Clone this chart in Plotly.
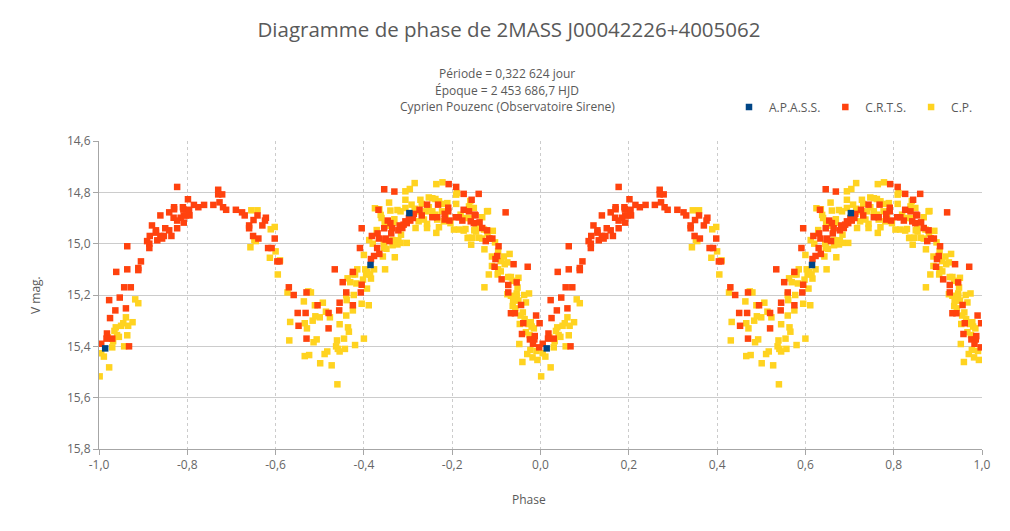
import plotly.graph_objects as go

# ---------------- data (phase in [0,1), V magnitude) ----------------
apass_phase = [0.014, 0.615, 0.703]
apass_mag = [15.408, 15.083, 14.881]

crts_phase = [
    0.177, 0.270, 0.270, 0.279, 0.2015, 0.273, 0.215, 0.225, 0.238, 0.259,
    0.281, 0.288, 0.310, 0.324, 0.170, 0.170, 0.190, 0.191, 0.204, 0.159,
    0.139, 0.169, 0.185, 0.192, 0.205, 0.197, 0.177, 0.192, 0.120, 0.150,
    0.159, 0.177, 0.129, 0.129, 0.115, 0.139, 0.147, 0.164, 0.143, 0.132,
    0.109, 0.114, 0.114, 0.064, 0.095, 0.089, 0.089, 0.064, 0.039, 0.057,
    0.072, 0.023, 0.047, 0.037, 0.061, 0.025, 0.018, 0.017, 0.030, 0.005,
    0.068,
    0.330, 0.350, 0.359, 0.378, 0.376, 0.340, 0.340, 0.370, 0.349, 0.361,
    0.398, 0.383, 0.391, 0.404, 0.409, 0.430, 0.441, 0.470, 0.495, 0.450,
    0.468, 0.520, 0.452, 0.520, 0.470, 0.544, 0.545, 0.534, 0.552, 0.560,
    0.575, 0.575, 0.595, 0.593, 0.595, 0.591, 0.618, 0.616, 0.623, 0.631,
    0.634, 0.630, 0.635, 0.633, 0.646, 0.646, 0.649, 0.654,
    0.669, 0.660, 0.681, 0.678, 0.664, 0.662, 0.649, 0.658, 0.697, 0.705,
    0.792, 0.809, 0.826, 0.860, 0.844, 0.743, 0.768, 0.791, 0.791, 0.726,
    0.826, 0.838, 0.713, 0.731, 0.755, 0.766, 0.783, 0.851, 0.808, 0.815,
    0.823, 0.783, 0.794, 0.702, 0.711, 0.694, 0.842, 0.849, 0.862, 0.868,
    0.687, 0.690,
    0.921, 0.853, 0.879, 0.884, 0.891, 0.876, 0.905, 0.898, 0.902, 0.939,
    0.896, 0.971,
    0.912, 0.927, 0.946, 0.927, 0.956, 0.933, 0.942, 0.990, 0.961, 0.998,
    0.958, 0.976, 0.986, 0.987, 0.983, 0.997,
]
crts_mag = [
    14.779, 14.790, 14.808, 14.808, 14.827, 14.839, 14.849, 14.858, 14.849, 14.849,
    14.858, 14.868, 14.868, 14.878, 14.858, 14.866, 14.858, 14.866, 14.868, 14.878,
    14.890, 14.899, 14.899, 14.890, 14.890, 14.890, 14.910, 14.918, 14.929, 14.940,
    14.948, 14.940, 14.948, 14.957, 14.970, 14.970, 14.970, 14.970, 14.980, 14.987,
    14.990, 15.000, 15.017, 15.010, 15.069, 15.095, 15.103, 15.100, 15.110, 15.170,
    15.170, 15.220, 15.210, 15.260, 15.252, 15.290, 15.350, 15.370, 15.370, 15.390,
    15.400,
    14.890, 14.908, 14.890, 14.899, 14.910, 14.929, 14.940, 14.929, 14.970, 14.980,
    14.980, 15.017, 15.017, 15.069, 15.069, 15.170, 15.200, 15.190, 15.240, 15.270,
    15.270, 15.270, 15.320, 15.330, 15.370, 15.260, 15.230, 15.100, 15.150, 15.190,
    15.240, 15.110, 15.160, 15.190, 14.940, 15.017, 14.970, 15.060, 15.048, 14.960,
    14.980, 15.017, 15.040, 14.868, 14.788, 14.940, 14.980, 14.910,
    14.797, 14.920, 14.929, 14.948, 14.940, 14.960, 14.984, 14.990, 14.920, 14.910,
    14.768, 14.779, 14.806, 14.806, 14.829, 14.848, 14.848, 14.860, 14.874, 14.868,
    14.868, 14.874, 14.884, 14.890, 14.897, 14.897, 14.884, 14.887, 14.897, 14.897,
    14.910, 14.906, 14.910, 14.900, 14.900, 14.913, 14.913, 14.920, 14.917, 14.939,
    14.939, 14.926,
    14.878, 14.890, 14.948, 14.980, 14.980, 14.990, 15.010, 15.060, 15.048, 15.080,
    15.090, 15.090,
    15.139, 15.161, 15.151, 15.190, 15.239, 15.271, 15.271, 15.280, 15.310, 15.310,
    15.352, 15.373, 15.373, 15.360, 15.390, 15.404,
]

cp_phase = [
    0.082, 0.089, 0.061, 0.076, 0.055, 0.066, 0.050, 0.038, 0.035, 0.064,
    0.041, 0.045, 0.020, 0.032, 0.030, 0.057, 0.005, 0.011, 0.023, 0.0015,
    0.345, 0.359, 0.389, 0.398, 0.352, 0.355, 0.343, 0.400, 0.387, 0.410,
    0.405, 0.427, 0.474, 0.480, 0.464, 0.507, 0.489, 0.433, 0.466, 0.471,
    0.484, 0.490, 0.500, 0.514, 0.523, 0.431, 0.486, 0.493, 0.466, 0.476,
    0.511, 0.517, 0.501, 0.527, 0.540, 0.537, 0.541, 0.545, 0.539, 0.545,
    0.557, 0.555, 0.564, 0.566, 0.560, 0.575, 0.561, 0.560, 0.569, 0.563,
    0.583, 0.580, 0.575, 0.585, 0.577, 0.598, 0.607, 0.595, 0.611, 0.580,
    0.600, 0.600, 0.603, 0.608, 0.605, 0.614, 0.616, 0.623, 0.648, 0.643,
    0.612, 0.620, 0.625, 0.635, 0.638, 0.640, 0.647, 0.651, 0.629, 0.645,
    0.651, 0.646,
    0.657, 0.660, 0.676, 0.669, 0.667, 0.684, 0.697, 0.678, 0.665, 0.665,
    0.676, 0.670, 0.683, 0.764, 0.830, 0.835,
    0.715, 0.764, 0.778, 0.694, 0.704, 0.809, 0.811, 0.747, 0.755, 0.762,
    0.770, 0.777, 0.789, 0.728, 0.731, 0.694, 0.708, 0.809, 0.694, 0.715,
    0.721, 0.747, 0.755, 0.740, 0.777, 0.762, 0.785, 0.683, 0.724, 0.736,
    0.743, 0.766, 0.781, 0.796, 0.819, 0.830, 0.868, 0.879, 0.838, 0.849,
    0.717, 0.770, 0.804, 0.815, 0.826, 0.853, 0.872, 0.743,
    0.841, 0.881, 0.840, 0.850, 0.854, 0.880, 0.892, 0.861, 0.838, 0.846,
    0.868, 0.897, 0.843, 0.873, 0.904, 0.890, 0.930, 0.917, 0.910, 0.919,
    0.925, 0.890, 0.904, 0.910, 0.883, 0.903, 0.927, 0.933, 0.950, 0.937,
    0.873, 0.948, 0.925, 0.933, 0.946, 0.946, 0.963, 0.974, 0.938, 0.950,
    0.967, 0.937, 0.943, 0.960, 0.955, 0.964, 0.953, 0.978, 0.980, 0.985,
    0.973, 0.967, 0.975, 0.952, 0.977, 0.991, 0.970, 0.982, 0.993, 0.959,
]
cp_mag = [
    15.217, 15.232, 15.287, 15.306, 15.310, 15.320, 15.320, 15.326, 15.340, 15.357,
    15.356, 15.363, 15.365, 15.380, 15.404, 15.400, 15.427, 15.440, 15.482, 15.517,
    14.870, 14.870, 14.944, 14.935, 14.986, 14.990, 15.014, 15.030, 15.055, 15.065,
    15.120, 15.190, 15.186, 15.190, 15.225, 15.230, 15.240, 15.305, 15.310, 15.330,
    15.300, 15.283, 15.287, 15.265, 15.287, 15.377, 15.384, 15.373, 15.438, 15.434,
    15.430, 15.420, 15.466, 15.474, 15.548, 15.400, 15.410, 15.420, 15.377, 15.314,
    15.410, 15.370, 15.326, 15.343, 15.280, 15.260, 15.220, 15.200, 15.150, 15.135,
    15.155, 15.120, 15.120, 15.100, 15.200, 15.140, 15.175, 15.234, 15.240, 15.395,
    15.370, 15.044, 15.100, 15.110, 15.120, 15.120, 15.136, 15.100, 15.100, 15.050,
    14.986, 15.000, 14.862, 14.866, 14.888, 14.900, 14.920, 14.930, 14.947, 15.000,
    15.020, 15.016,
    14.840, 14.871, 14.869, 14.905, 14.918, 14.965, 14.997, 14.987, 14.986, 15.006,
    15.003, 15.053, 14.997, 14.958, 14.943, 14.978,
    14.764, 14.768, 14.761, 14.796, 14.787, 14.809, 14.803, 14.820, 14.823, 14.826,
    14.835, 14.845, 14.842, 14.829, 14.845, 14.829, 14.848, 14.845, 14.861, 14.864,
    14.874, 14.858, 14.874, 14.874, 14.874, 14.887, 14.887, 14.874, 14.913, 14.906,
    14.923, 14.906, 14.913, 14.920, 14.887, 14.900, 14.897, 14.874, 14.855, 14.861,
    14.939, 14.936, 14.945, 14.945, 14.949, 14.939, 14.945, 14.939,
    14.834, 14.873, 14.900, 14.948, 14.953, 14.960, 14.950, 14.977, 14.977, 14.977,
    14.980, 14.995, 15.004, 15.022, 15.029, 15.050, 15.040, 15.050, 15.068, 15.080,
    15.073, 15.087, 15.100, 15.108, 15.120, 15.120, 15.130, 15.130, 15.133, 15.145,
    15.170, 15.171, 15.197, 15.203, 15.194, 15.206, 15.200, 15.194, 15.220, 15.222,
    15.229, 15.243, 15.252, 15.268, 15.280, 15.294, 15.313, 15.306, 15.323, 15.330,
    15.313, 15.345, 15.356, 15.391, 15.414, 15.418, 15.430, 15.443, 15.453, 15.461,
]

x_tick_vals = [-1.0, -0.8, -0.6, -0.4, -0.2, 0.0, 0.2, 0.4, 0.6, 0.8, 1.0]
x_tick_text = ["-1,0", "-0,8", "-0,6", "-0,4", "-0,2", "0,0", "0,2", "0,4", "0,6", "0,8", "1,0"]
y_tick_vals = [14.6, 14.8, 15.0, 15.2, 15.4, 15.6, 15.8]
y_tick_text = ["14,6", "14,8", "15,0", "15,2", "15,4", "15,6", "15,8"]

series_names = ["A.P.A.S.S.", "C.R.T.S.", "C.P."]
series_colors = ["#004586", "#ff420e", "#ffd320"]


def two_cycles(phase):
    """Phase diagram shown over two cycles: [-1,0) and [0,1)."""
    return [p - 1.0 for p in phase] + list(phase)


FONT = "Open Sans"
TEXT = "#595959"
# the page body has an 8 px margin, so the figure is sized to fit the window
W, H = 1002, 523
ML, MT = 91, 133
PW, PH = 883, 308


def px(xp):   # page x pixel -> paper x
    return (xp - 8 - ML) / PW


def py(yp):   # page y pixel -> paper y
    return (MT + PH - (yp - 8)) / PH


fig = go.Figure()
# drawing order: C.P. at the bottom, then C.R.T.S., then A.P.A.S.S. on top
for name, ph, mg, col, rank in [
    (series_names[2], cp_phase, cp_mag, series_colors[2], 3),
    (series_names[1], crts_phase, crts_mag, series_colors[1], 2),
    (series_names[0], apass_phase, apass_mag, series_colors[0], 1),
]:
    fig.add_trace(go.Scatter(
        x=two_cycles(ph), y=list(mg) + list(mg),
        mode="markers", name=name, legendrank=rank,
        marker=dict(symbol="square", size=6.5, color=col, line=dict(width=0)),
    ))

fig.update_layout(
    width=W, height=H,
    paper_bgcolor="white", plot_bgcolor="white",
    margin=dict(l=ML, r=W - ML - PW, t=MT, b=H - MT - PH),
    font=dict(family=FONT, size=12, color=TEXT),
    title=dict(text="Diagramme de phase de 2MASS J00042226+4005062",
               x=0.5, xanchor="center", y=1 - 22 / H, yanchor="middle",
               font=dict(family=FONT, size=20.5, color=TEXT)),
    showlegend=True,
    legend=dict(orientation="h", x=px(978), xanchor="right", y=py(107),
                yanchor="middle", font=dict(size=12, color=TEXT),
                itemwidth=30, tracegroupgap=0, bgcolor="rgba(0,0,0,0)"),
    xaxis=dict(range=[-1.0, 1.0], tickvals=x_tick_vals, ticktext=x_tick_text,
               showgrid=True, gridcolor="#cccccc", griddash="3px,3px", gridwidth=1,
               zeroline=False, showline=True, linecolor="#a6a6a6", linewidth=1,
               ticks="outside", ticklen=5, tickcolor="#a6a6a6",
               tickfont=dict(size=12, color="#666666")),
    yaxis=dict(range=[15.8, 14.6], tickvals=y_tick_vals, ticktext=y_tick_text,
               showgrid=True, gridcolor="#cccccc", gridwidth=1,
               zeroline=False, showline=True, linecolor="#a6a6a6", linewidth=1,
               ticks="outside", ticklen=5, tickcolor="#a6a6a6",
               tickfont=dict(size=12, color="#666666")),
    annotations=[
        dict(text="Période = 0,322 624 jour", xref="paper", yref="paper",
             x=px(507), y=py(73), showarrow=False,
             xanchor="center", yanchor="middle", font=dict(size=12, color=TEXT)),
        dict(text="Époque = 2 453 686,7 HJD", xref="paper", yref="paper",
             x=px(507), y=py(90), showarrow=False,
             xanchor="center", yanchor="middle", font=dict(size=12, color=TEXT)),
        dict(text="Cyprien Pouzenc (Observatoire Sirene)", xref="paper", yref="paper",
             x=px(507), y=py(107), showarrow=False,
             xanchor="center", yanchor="middle", font=dict(size=12, color=TEXT)),
        dict(text="V mag.", xref="paper", yref="paper",
             x=px(35), y=py(295), showarrow=False, textangle=-90,
             xanchor="center", yanchor="middle", font=dict(size=12, color=TEXT)),
        dict(text="Phase", xref="paper", yref="paper",
             x=px(529), y=py(499), showarrow=False,
             xanchor="center", yanchor="middle", font=dict(size=12, color=TEXT)),
    ],
)

fig.write_html("out.html")
